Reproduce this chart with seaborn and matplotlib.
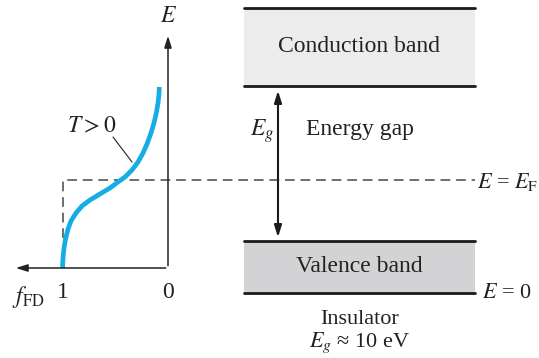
import matplotlib
matplotlib.use("Agg")
import matplotlib.pyplot as plt
import pandas as pd
import seaborn as sns

# --- data (pixel coords: x right, y down) ---
curve_x = [62.5, 63, 64, 65.5, 68, 71, 76, 82, 90, 100, 110, 118, 125, 132, 138,
           143, 147, 151, 154, 156.5, 158, 159, 159.3]
curve_y = [268, 258, 248, 239, 229, 221, 213, 206, 200, 194, 188, 182, 177, 170, 162,
           153, 144, 133, 123, 112, 103, 94, 87]

band_names = ["Conduction band", "Valence band"]
band_top = [8, 241]
band_bottom = [86, 293]
band_colors = ["#ececed", "#d3d3d5"]

fermi_y = 180
gap_top, gap_bottom = 88, 240

sns.set_style("white")
plt.rcParams["font.family"] = ["Liberation Serif", "DejaVu Serif"]
plt.rcParams["mathtext.fontset"] = "stix"

fig = plt.figure(figsize=(5.39, 3.58), dpi=100)
ax = fig.add_axes([0, 0, 1, 1])
ax.set_xlim(0, 539)
ax.set_ylim(358, 0)
ax.axis("off")

txt = dict(fontsize=17, color="#222222")
small = dict(fontsize=16, color="#222222")

# --- left panel: Fermi-Dirac distribution ---
ax.annotate("", xy=(168, 33), xytext=(168, 268.5),
            arrowprops=dict(arrowstyle="-|>,head_length=0.7,head_width=0.22", color="#222222", lw=1.1))
ax.annotate("", xy=(13, 268), xytext=(168.5, 268),
            arrowprops=dict(arrowstyle="-|>,head_length=0.7,head_width=0.22", color="#222222", lw=1.1))
ax.text(169, 16, "$E$", ha="center", va="center", **txt)
ax.text(63, 292, "1", ha="center", va="center", **txt)
ax.text(168, 292, "0", ha="center", va="center", **txt)
ax.text(12, 297, r"$f_{\mathrm{FD}}$", ha="left", va="center", **txt)

# dashed Fermi level
ax.plot([63, 63, 475], [238, fermi_y, fermi_y], ls=(0, (5, 3)), color="#6e6e6e", lw=1.4)

df = pd.DataFrame({"x": curve_x, "y": curve_y})
sns.lineplot(data=df, x="x", y="y", sort=False, ax=ax, color="#16ace6", lw=3.4,
             solid_capstyle="butt", solid_joinstyle="round")
ax.set_xlim(0, 539)
ax.set_ylim(358, 0)

ax.plot([113, 132], [137, 162], color="#222222", lw=0.8)
ax.text(92, 127, "$T > 0$", ha="center", va="center", **txt)

# --- right panel: band diagram ---
for name, top, bot, col in zip(band_names, band_top, band_bottom, band_colors):
    ax.fill_between([244, 475], top, bot, color=col, lw=0)
    ax.plot([244, 475], [top, top], color="#1a1a1a", lw=2)
    ax.plot([244, 475], [bot, bot], color="#1a1a1a", lw=2)
    ax.text(359, (top + bot) / 2, name, ha="center", va="center", **txt)

ax.annotate("", xy=(278, gap_top), xytext=(278, gap_bottom),
            arrowprops=dict(arrowstyle="<|-|>,head_length=0.7,head_width=0.22", color="#1a1a1a", lw=1.5))
ax.text(262, 131, "$E_g$", ha="center", va="center", **txt)
ax.text(360, 129, "Energy gap", ha="center", va="center", **txt)
ax.text(477, 182, r"$E$ = $E_{\mathrm{F}}$", ha="left", va="center", **small)
ax.text(482, 293, r"$E$ = 0", ha="left", va="center", **small)
ax.text(360, 319, "Insulator", ha="center", va="center", **small)
ax.text(360, 343, r"$E_g$ ≈ 10 eV", ha="center", va="center", **small)

fig.savefig("out.png", dpi=100)
